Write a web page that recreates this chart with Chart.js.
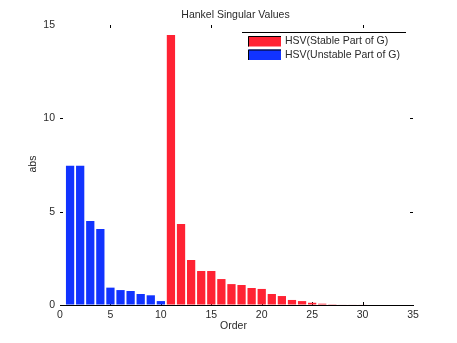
<!DOCTYPE html>
<html><head><meta charset="utf-8">
<script src="https://cdn.jsdelivr.net/npm/chart.js@4/dist/chart.umd.min.js"></script>
<style>html,body{margin:0;padding:0;background:#fff;overflow:hidden}</style>
</head><body>
<canvas id="c" width="457" height="343" style="width:457px;height:343px;display:block"></canvas>
<script>
const chartTitle = 'Hankel Singular Values';
const xAxisLabel = 'Order';
const yAxisLabel = 'abs';
const stableLabel = 'HSV(Stable Part of G)';
const unstableLabel = 'HSV(Unstable Part of G)';

const unstableOrders = [1, 2, 3, 4, 5, 6, 7, 8, 9, 10];
const unstableValues = [7.46, 7.46, 4.50, 4.07, 0.93, 0.80, 0.75, 0.59, 0.52, 0.21];

const stableOrders = [11, 12, 13, 14, 15, 16, 17, 18, 19, 20, 21, 22, 23, 24, 25, 26, 27, 28, 29, 30];
const stableValues = [14.46, 4.34, 2.41, 1.82, 1.82, 1.39, 1.12, 1.07, 0.91, 0.86, 0.59, 0.48, 0.27, 0.21, 0.12, 0.07, 0.04, 0.03, 0.03, 0.03];

const xTicks = [0, 5, 10, 15, 20, 25, 30, 35];
const yTicks = [0, 5, 10, 15];
// inner tick marks that are visible in the reference
const bottomInnerTicks = [5, 10, 15, 20, 25, 30];
const topInnerTicks = [5, 15, 30];
const sideInnerTicks = [5, 10];

const RED = '#ff2233';
const BLUE = '#1133ff';
const FAMILY = '"Liberation Sans", Arial, sans-serif';
const FONT = '10.5px ' + FAMILY;
const TEXT = '#2a2a2a';

const toPoints = (xs, ys) => xs.map((x, i) => ({ x: x, y: ys[i] }));

const decorPlugin = {
  id: 'decor',
  beforeDatasetsDraw(chart) {
    const { ctx, chartArea: a, scales: { x, y } } = chart;
    ctx.save();
    ctx.strokeStyle = '#000';
    ctx.lineWidth = 1;
    const L = 3;
    ctx.beginPath();
    bottomInnerTicks.forEach(v => {
      const px = Math.round(x.getPixelForValue(v)) + 0.5;
      ctx.moveTo(px, a.bottom); ctx.lineTo(px, a.bottom - L);
    });
    topInnerTicks.forEach(v => {
      const px = Math.round(x.getPixelForValue(v)) + 0.5;
      ctx.moveTo(px, a.top); ctx.lineTo(px, a.top + L);
    });
    sideInnerTicks.forEach(v => {
      const py = Math.round(y.getPixelForValue(v)) + 0.5;
      ctx.moveTo(a.left, py); ctx.lineTo(a.left + L, py);
      ctx.moveTo(a.right, py); ctx.lineTo(a.right - L, py);
    });
    ctx.stroke();
    ctx.restore();
  },
  afterDraw(chart) {
    const { ctx, chartArea: a } = chart;
    ctx.save();
    ctx.font = FONT;
    ctx.fillStyle = TEXT;
    ctx.textAlign = 'center';
    ctx.textBaseline = 'middle';
    const cx = (a.left + a.right) / 2;
    ctx.fillText(chartTitle, cx - 1, 15);
    ctx.fillText(xAxisLabel, cx - 3, 326);
    ctx.save();
    ctx.translate(33, 164);
    ctx.rotate(-Math.PI / 2);
    ctx.fillText(yAxisLabel, 0, 0);
    ctx.restore();

    // legend
    const lx = 242, lr = 406, ly = 32;
    ctx.strokeStyle = '#000';
    ctx.lineWidth = 1;
    ctx.beginPath();
    ctx.moveTo(lx, ly + 0.5); ctx.lineTo(lr, ly + 0.5);
    ctx.stroke();
    const items = chart.data.datasets.map(d => ({ label: d.label, color: d.backgroundColor }));
    items.forEach((it, i) => {
      const sy = 36 + i * 13.5;
      ctx.fillStyle = it.color;
      ctx.fillRect(248, sy, 33, 10.5);
      ctx.beginPath();
      ctx.moveTo(248.5, sy + 10.5); ctx.lineTo(248.5, sy + 0.5); ctx.lineTo(281, sy + 0.5);
      ctx.stroke();
      ctx.fillStyle = TEXT;
      ctx.textAlign = 'left';
      ctx.fillText(it.label, 285, sy + 5.5);
    });
    ctx.restore();
  }
};

new Chart(document.getElementById('c'), {
  type: 'bar',
  data: {
    datasets: [
      { label: stableLabel, data: toPoints(stableOrders, stableValues), backgroundColor: RED, borderWidth: 0 },
      { label: unstableLabel, data: toPoints(unstableOrders, unstableValues), backgroundColor: BLUE, borderWidth: 0 }
    ]
  },
  options: {
    responsive: false,
    animation: false,
    devicePixelRatio: 1,
    layout: { padding: { top: 25, right: 44, left: 0, bottom: 0 } },
    datasets: { bar: { categoryPercentage: 1.0, barPercentage: 0.82 } },
    plugins: { legend: { display: false }, title: { display: false }, tooltip: { enabled: false } },
    scales: {
      x: {
        type: 'linear', min: 0, max: 35, stacked: true, offset: false,
        afterBuildTicks: s => { s.ticks = xTicks.map(v => ({ value: v })); },
        afterFit: s => { s.height = 38; },
        grid: { drawOnChartArea: false, drawTicks: false },
        border: { display: true, color: '#000', width: 1 },
        ticks: { padding: 4, maxRotation: 0, autoSkip: false, color: TEXT, font: { family: FAMILY, size: 10.5 } }
      },
      y: {
        type: 'linear', min: 0, max: 15, stacked: true,
        afterBuildTicks: s => { s.ticks = yTicks.map(v => ({ value: v })); },
        afterFit: s => { s.width = 60; },
        grid: { drawOnChartArea: false, drawTicks: false },
        border: { display: false },
        ticks: { padding: 5, color: TEXT, font: { family: FAMILY, size: 10.5 } }
      }
    }
  },
  plugins: [decorPlugin]
});
</script>
</body></html>
